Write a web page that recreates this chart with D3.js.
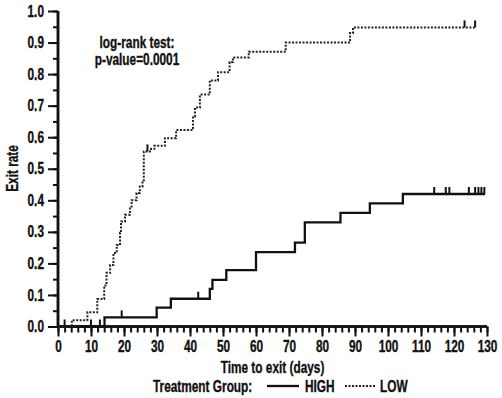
<!DOCTYPE html>
<head>
  <script src="https://d3js.org/d3.v7.min.js"></script>
  <style>
    body { margin: 0; background: #fff; }
    text { font-family: "Liberation Sans", Arial, sans-serif; font-weight: bold; fill: #111; stroke: #111; stroke-width: 0.35px; }
  </style>
</head>
<body>
  <svg width="502" height="398"></svg>
  <script>
    // HIGH group: step times and exit rate after each step
    const highTimes = [0, 14.1, 29.9, 34.2, 46, 46.8, 51, 60, 71.8, 74.8, 85.6, 94.5, 104.5, 129.4];
    const highRates = [0, 0.029, 0.06, 0.088, 0.119, 0.148, 0.179, 0.236, 0.266, 0.33, 0.36, 0.39, 0.42, 0.42];
    const highCensorT = [2, 10, 12.7, 19.3, 42.5, 114, 117.5, 118.6, 124.5, 126.4, 127.4, 128.3, 129.2];

    // LOW group
    const lowTimes = [0, 4.2, 8.9, 11.9, 14, 14.7, 15.8, 16.8, 17.8, 18.8, 19.1, 20.3, 21.8, 22.3, 23.8, 24.8,
      25.6, 26, 28.2, 29.2, 32.4, 35.8, 40.9, 41.5, 43, 46, 48.5, 52, 53, 57.8, 69, 88.5, 89.4, 126.5];
    const lowRates = [0, 0.02, 0.045, 0.087, 0.13, 0.17, 0.195, 0.233, 0.258, 0.297, 0.333, 0.354, 0.38, 0.40, 0.423, 0.444,
      0.46, 0.555, 0.563, 0.573, 0.597, 0.623, 0.666, 0.694, 0.735, 0.78, 0.806, 0.838, 0.853, 0.871, 0.9, 0.93, 0.948, 0.948];
    const lowCensorT = [27.1, 123.2, 126.4];

    const xTicks = d3.range(0, 131, 10);
    const yTicks = d3.range(0, 1.01, 0.1);

    const K = 0.74;     // horizontal squeeze, the original uses a condensed face
    const FS = 16;

    const svg = d3.select("svg");
    const x = d3.scaleLinear().domain([0, 130]).range([58, 487]);
    const y = d3.scaleLinear().domain([0, 1]).range([326.5, 11]);

    const stepAt = (times, rates, t) => {
      let v = 0;
      times.forEach((tt, i) => { if (tt <= t) v = rates[i]; });
      return v;
    };

    // axes
    const xMinor = svg.append("g").attr("transform", "translate(0,326.5)")
      .call(d3.axisBottom(x).tickValues(d3.range(0, 131, 2)).tickSize(6).tickFormat(""));
    const xMajor = svg.append("g").attr("transform", "translate(0,326.5)")
      .call(d3.axisBottom(x).tickValues(xTicks).tickSize(10).tickPadding(4).tickFormat(d3.format("d")));
    const yMinor = svg.append("g").attr("transform", "translate(58,0)")
      .call(d3.axisLeft(y).tickValues(d3.range(0, 1.01, 0.05)).tickSize(5).tickFormat(""));
    const yMajor = svg.append("g").attr("transform", "translate(58,0)")
      .call(d3.axisLeft(y).tickValues(yTicks).tickSize(10).tickPadding(4).tickFormat(d3.format(".1f")));

    svg.selectAll(".domain").attr("stroke", "#111").attr("stroke-width", 2.5);
    svg.selectAll(".tick line").attr("stroke", "#111").attr("stroke-width", 2);
    svg.selectAll(".tick text")
      .attr("font-size", FS).attr("font-family", null).attr("fill", null)
      .attr("x", function () { return (+d3.select(this).attr("x") || 0) / K; })
      .attr("transform", `scale(${K},1)`);
    xMinor.select(".domain").attr("d", "M58,0H487");
    xMajor.select(".domain").attr("d", "M58,0H487");
    yMinor.select(".domain").attr("d", "M0,326.5V11");
    yMajor.select(".domain").attr("d", "M0,326.5V11");

    const line = d3.line().curve(d3.curveStepAfter)
      .x(d => x(d[0])).y(d => y(d[1]));

    svg.append("path")
      .attr("d", line(highTimes.map((t, i) => [t, highRates[i]])))
      .attr("fill", "none").attr("stroke", "#111").attr("stroke-width", 2.3);

    svg.append("path")
      .attr("d", line(lowTimes.map((t, i) => [t, lowRates[i]])))
      .attr("fill", "none").attr("stroke", "#222").attr("stroke-width", 2)
      .attr("stroke-dasharray", "2,1.5");

    // censor marks
    const censor = (times, rates, ts) => {
      svg.append("g").selectAll("line").data(ts).enter().append("line")
        .attr("x1", d => x(d)).attr("x2", d => x(d))
        .attr("y1", d => y(stepAt(times, rates, d)))
        .attr("y2", d => y(stepAt(times, rates, d)) - 7)
        .attr("stroke", "#111").attr("stroke-width", 2);
    };
    censor(highTimes, highRates, highCensorT);
    censor(lowTimes, lowRates, lowCensorT);

    const label = (tx, ty, str, anchor, rot) => svg.append("text")
      .attr("transform", `translate(${tx},${ty})${rot ? " rotate(" + rot + ")" : ""} scale(${K},1)`)
      .attr("text-anchor", anchor).attr("font-size", FS).text(str);

    // titles
    label((58 + 487) / 2, 373, "Time to exit (days)", "middle");
    label(18, 168.5, "Exit rate", "middle", -90);
    label(137, 48, "log-rank test:", "middle");
    label(137, 65, "p-value=0.0001", "middle");

    // legend
    label(153, 391.5, "Treatment Group:", "start");
    svg.append("line").attr("x1", 267).attr("x2", 299).attr("y1", 386).attr("y2", 386)
      .attr("stroke", "#111").attr("stroke-width", 2.3);
    label(305, 391.5, "HIGH", "start");
    svg.append("line").attr("x1", 345).attr("x2", 376).attr("y1", 386).attr("y2", 386)
      .attr("stroke", "#222").attr("stroke-width", 2).attr("stroke-dasharray", "2,1.5");
    label(380, 391.5, "LOW", "start");
  </script>
</body>
